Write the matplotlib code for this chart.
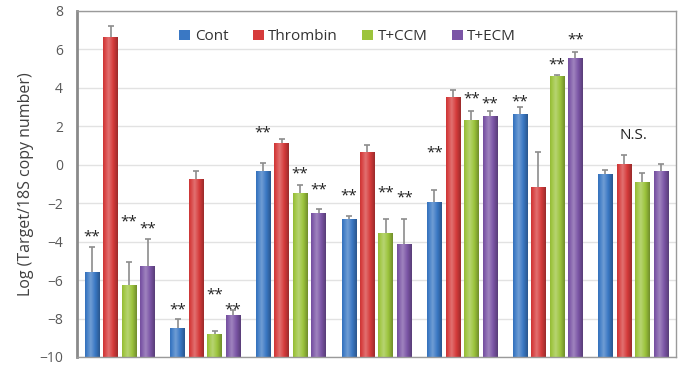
import numpy as np
import matplotlib.pyplot as plt
import matplotlib.colors as mcolors
from matplotlib.patches import Patch

plt.rcParams['font.family'] = ['Open Sans', 'DejaVu Sans']

series = ['Cont', 'Thrombin', 'T+CCM', 'T+ECM']
colors = ['#3a78c4', '#d63b3b', '#9cc43c', '#7b55a6']

cont = [-5.58, -8.49, -0.31, -2.84, -1.93, 2.66, -0.49]
thrombin = [6.66, -0.73, 1.15, 0.66, 3.53, -1.15, 0.05]
tccm = [-6.26, -8.80, -1.46, -3.55, 2.33, 4.62, -0.91]
tecm = [-5.24, -7.81, -2.52, -4.12, 2.54, 5.58, -0.33]

cont_err = [1.30, 0.46, 0.38, 0.18, 0.61, 0.33, 0.24]
thrombin_err = [0.57, 0.43, 0.17, 0.36, 0.38, 1.83, 0.45]
tccm_err = [1.20, 0.17, 0.43, 0.71, 0.45, 0.07, 0.49]
tecm_err = [1.38, 0.23, 0.21, 1.28, 0.28, 0.28, 0.36]

# (group, series index, y of label)
stars = [(0, 0, -3.75), (0, 2, -2.95), (0, 3, -3.35),
         (1, 0, -7.55), (1, 2, -6.75), (1, 3, -7.55),
         (2, 0, 1.68), (2, 2, -0.48), (2, 3, -1.33),
         (3, 0, -1.62), (3, 2, -1.48), (3, 3, -1.74),
         (4, 0, 0.62), (4, 2, 3.42), (4, 3, 3.16),
         (5, 0, 3.25), (5, 2, 5.2), (5, 3, 6.5)]

values = [cont, thrombin, tccm, tecm]
errors = [cont_err, thrombin_err, tccm_err, tecm_err]

fig = plt.figure(figsize=(6.81, 3.68), dpi=100)
ax = fig.add_axes([77 / 681, 11 / 368, 599 / 681, 346 / 368])

x = np.arange(len(cont))
step = 0.216
width = 0.17
offsets = [(i - 1.5) * step for i in range(4)]


def shade(c):
    # cylinder-like shading across a bar
    base = np.array(mcolors.to_rgb(c))
    t = np.linspace(0, 1, 64)
    light = 1 - np.abs(t - 0.38) / 0.62
    rows = []
    for v in light:
        if v > 0.5:
            rows.append(base + (1 - base) * (v - 0.5) * 0.55)
        else:
            rows.append(base * (0.72 + 0.56 * v))
    return np.clip(np.array(rows), 0, 1)[None, :, :]


for i in range(4):
    bars = ax.bar(x + offsets[i], values[i], width, bottom=0, color=colors[i],
                  yerr=errors[i], error_kw=dict(ecolor='#8c8c8c', elinewidth=1.2,
                                                capsize=2.5, capthick=1.2),
                  zorder=2)
    img = shade(colors[i])
    for b, v in zip(bars, values[i]):
        # bars start at the axis floor
        b.set_y(-10)
        b.set_height(v + 10)
        x0 = b.get_x()
        im = ax.imshow(img, extent=(x0, x0 + b.get_width(), -10, v),
                       aspect='auto', zorder=2.5, interpolation='bilinear')
        im.set_clip_path(b)

for g, s, y in stars:
    ax.text(x[g] + offsets[s], y, '**', ha='center', va='center',
            fontsize=11, color='#222222', zorder=4)
ax.text(x[6], 1.5, 'N.S.', ha='center', va='center', fontsize=11,
        color='#222222')

ax.set_xlim(-0.5, len(cont) - 0.5)
ax.set_ylim(-10, 8)
ax.set_yticks(range(-10, 9, 2))
ax.set_xticks([])
ax.yaxis.grid(True, color='#e2e2e2', linewidth=1)
ax.set_axisbelow(True)
ax.tick_params(axis='y', length=0, labelsize=10, labelcolor='#595959', pad=10)
for side in ['top', 'right', 'bottom']:
    ax.spines[side].set_color('#9a9a9a')
    ax.spines[side].set_linewidth(1)
ax.spines['left'].set_color('#8a8a8a')
ax.spines['left'].set_linewidth(2)
ax.set_ylabel('Log (Target/18S copy number)', fontsize=11.5, color='#404040',
              labelpad=4)

handles = [Patch(facecolor=c, edgecolor='none') for c in colors]
ax.legend(handles, series, loc='center', bbox_to_anchor=(0.452, 0.925),
          ncol=4, frameon=False, fontsize=11, handlelength=0.7,
          handleheight=0.7, handletextpad=0.3, columnspacing=1.6,
          labelcolor='#333333')

fig.savefig('out.png', dpi=100)
